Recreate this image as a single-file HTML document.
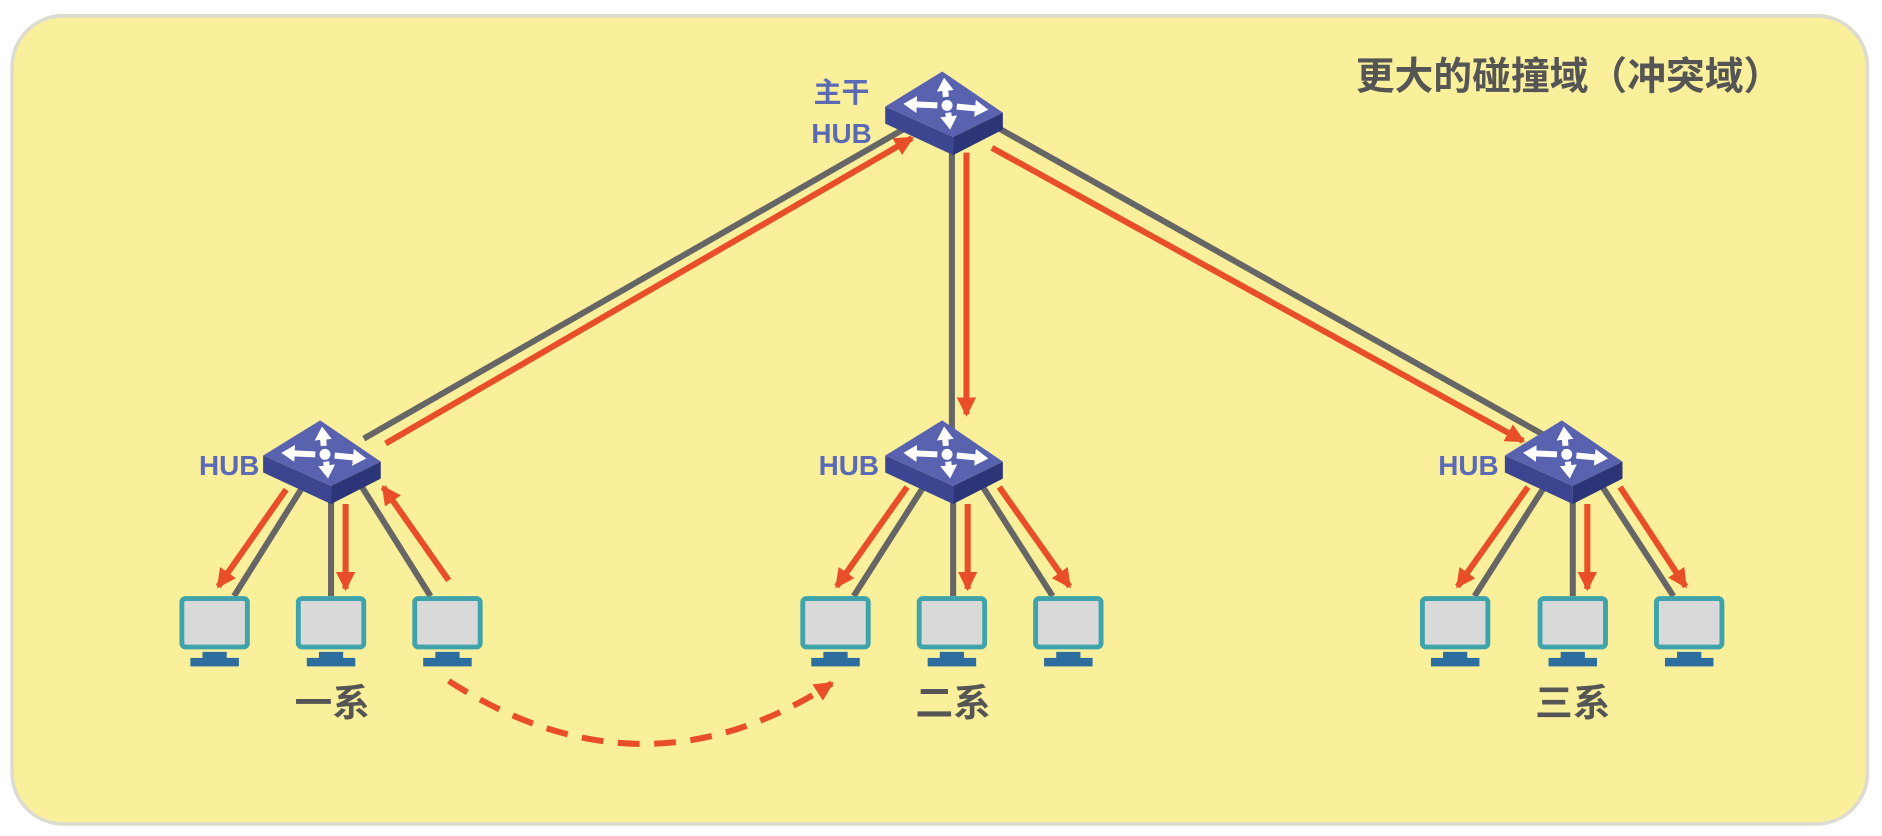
<!DOCTYPE html>
<html><head><meta charset="utf-8"><style>
html,body{margin:0;padding:0;background:#fff;}
svg{display:block}
</style></head><body>
<svg width="1882" height="836" viewBox="0 0 1552 690" preserveAspectRatio="none" xmlns="http://www.w3.org/2000/svg">
<defs>
<marker id="ar" markerUnits="userSpaceOnUse" markerWidth="20" markerHeight="20" refX="14" refY="8" orient="auto">
<path d="M0,0 L16,8 L0,16 z" fill="#e84e27"/>
</marker>
<marker id="wa" markerUnits="userSpaceOnUse" markerWidth="16" markerHeight="16" refX="6" refY="7" orient="auto">
<path d="M0,0 L11,7 L0,14 z" fill="#fff"/>
</marker>
<g id="sw">
<polygon points="-56,-2 0,23 0,38 -56,12" fill="#3b4590"/>
<polygon points="41,3 0,23 0,38 41,17" fill="#2c3577"/>
<polygon points="-56,-2 -9,-31 41,3 0,23" fill="#5862ae"/>
<g stroke="#fff" stroke-width="5" fill="none">
<line x1="-6" y1="-10" x2="-7" y2="-21" marker-end="url(#wa)"/>
<line x1="-4" y1="3" x2="-3" y2="12" marker-end="url(#wa)"/>
<line x1="-13" y1="-3" x2="-36" y2="-4" marker-end="url(#wa)"/>
<line x1="3" y1="-2" x2="24" y2="0" marker-end="url(#wa)"/>
</g>
<circle cx="-5" cy="-3" r="4.5" fill="#fff"/>
</g>
<g id="pc">
<rect x="-27" y="0" width="54" height="40" rx="3" fill="#d9d9d9" stroke="#3ea3aa" stroke-width="4"/>
<rect x="-10" y="44" width="20" height="6" fill="#2d6e9e"/>
<rect x="-20" y="49" width="40" height="7" fill="#2d6e9e"/>
</g>
</defs>
<rect x="10" y="13" width="1530" height="667" rx="42" fill="#faf09b" stroke="#dcdcd0" stroke-width="3"/>
<text x="1118" y="74" font-family="Liberation Sans, Noto Sans CJK SC, sans-serif" font-size="32" font-weight="bold" fill="#555">更大的碰撞域（冲突域）</text>

<g stroke="#666" stroke-width="5" fill="none">
<line x1="748" y1="105" x2="300" y2="362"/>
<line x1="785" y1="122" x2="785" y2="355"/>
<line x1="822" y1="105" x2="1282" y2="364"/>
</g>
<g stroke="#e84e27" stroke-width="5" fill="none" marker-end="url(#ar)">
<line x1="318" y1="366" x2="752" y2="114"/>
<line x1="797" y1="126" x2="797" y2="342"/>
<line x1="818" y1="122" x2="1256" y2="364"/>
</g>

<g stroke="#666" stroke-width="5" fill="none">
<line x1="252" y1="398" x2="193" y2="492"/>
<line x1="273" y1="410" x2="273" y2="492"/>
<line x1="296" y1="398" x2="355" y2="492"/>
<line x1="764" y1="398" x2="704" y2="492"/>
<line x1="786" y1="410" x2="786" y2="492"/>
<line x1="808" y1="398" x2="868" y2="492"/>
<line x1="1276" y1="398" x2="1216" y2="492"/>
<line x1="1297" y1="410" x2="1297" y2="492"/>
<line x1="1319" y1="398" x2="1380" y2="492"/>
</g>
<g stroke="#e84e27" stroke-width="5" fill="none" marker-end="url(#ar)">
<line x1="236" y1="404" x2="180" y2="484"/>
<line x1="285" y1="416" x2="285" y2="486"/>
<line x1="370" y1="479" x2="316" y2="402"/>
<line x1="748" y1="402" x2="690" y2="484"/>
<line x1="798" y1="416" x2="798" y2="486"/>
<line x1="824" y1="402" x2="882" y2="484"/>
<line x1="1260" y1="402" x2="1202" y2="484"/>
<line x1="1309" y1="416" x2="1309" y2="486"/>
<line x1="1336" y1="402" x2="1390" y2="484"/>
</g>

<use href="#sw" x="786" y="90"/>
<use href="#sw" x="273" y="378"/>
<use href="#sw" x="786" y="378"/>
<use href="#sw" x="1297" y="378"/>

<g font-family="Liberation Sans, Noto Sans CJK SC, sans-serif" font-weight="bold" fill="#5b6ab5" font-size="23">
<text x="694" y="84" text-anchor="middle">主干</text>
<text x="694" y="118" text-anchor="middle">HUB</text>
<text x="189" y="392" text-anchor="middle">HUB</text>
<text x="700" y="392" text-anchor="middle">HUB</text>
<text x="1211" y="392" text-anchor="middle">HUB</text>
</g>

<use href="#pc" x="177" y="494"/>
<use href="#pc" x="273" y="494"/>
<use href="#pc" x="369" y="494"/>
<use href="#pc" x="689" y="494"/>
<use href="#pc" x="785" y="494"/>
<use href="#pc" x="881" y="494"/>
<use href="#pc" x="1200" y="494"/>
<use href="#pc" x="1297" y="494"/>
<use href="#pc" x="1393" y="494"/>

<g font-family="Liberation Sans, Noto Sans CJK SC, sans-serif" font-weight="bold" fill="#555" font-size="31" text-anchor="middle">
<text x="274" y="591">一系</text>
<text x="786" y="591">二系</text>
<text x="1297" y="591">三系</text>
</g>

<path d="M370,562 Q530,665 686,564" stroke="#e84e27" stroke-width="5" fill="none" stroke-dasharray="18,12" marker-end="url(#ar)"/>
</svg>
</body></html>
